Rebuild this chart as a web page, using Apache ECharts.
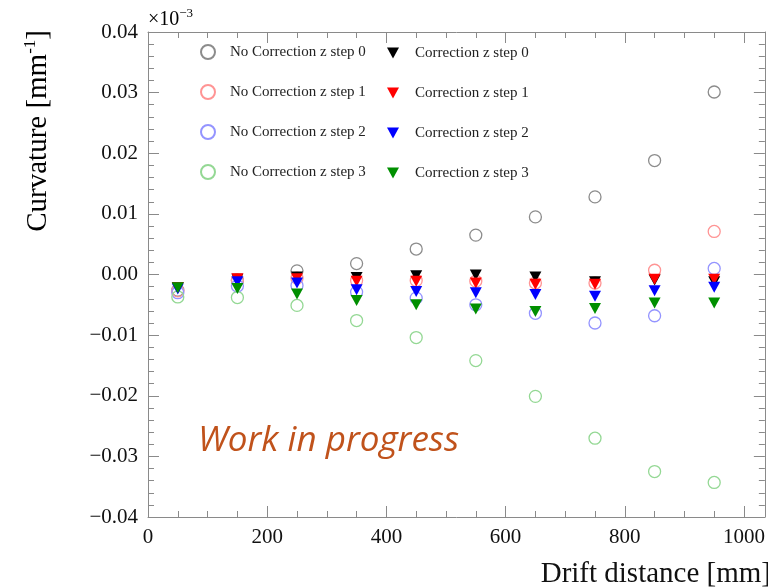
<!DOCTYPE html>
<html>
<head>
<meta charset="utf-8">
<script src="https://cdn.jsdelivr.net/npm/echarts@6/dist/echarts.min.js"></script>
<style>html,body{margin:0;padding:0;background:#fff}#c{width:768px;height:587px}</style>
</head>
<body>
<div id="c"></div>
<script>
const xVals = [50,150,250,350,450,550,650,750,850,950];
const noCorr0 = [-0.0026,-0.0010,0.0006,0.0018,0.0042,0.0065,0.0095,0.0128,0.0188,0.0301];
const noCorr1 = [-0.0027,-0.0009,-0.0006,-0.0010,-0.0010,-0.0011,-0.0014,-0.0014,0.0007,0.0071];
const noCorr2 = [-0.0030,-0.0019,-0.0018,-0.0029,-0.0039,-0.0050,-0.0064,-0.0080,-0.0068,0.0010];
const noCorr3 = [-0.0037,-0.0038,-0.0051,-0.0076,-0.0104,-0.0142,-0.0201,-0.0270,-0.0325,-0.0343];
const corr0 = [-0.0022,-0.0008,-0.0004,-0.0005,-0.0002,-0.0001,-0.0004,-0.0012,-0.0009,-0.0012];
const corr1 = [-0.0022,-0.0007,-0.0007,-0.0011,-0.0011,-0.0014,-0.0016,-0.0016,-0.0008,-0.0008];
const corr2 = [-0.0024,-0.0012,-0.0014,-0.0025,-0.0028,-0.0030,-0.0033,-0.0036,-0.0027,-0.0021];
const corr3 = [-0.0022,-0.0023,-0.0032,-0.0043,-0.0050,-0.0057,-0.0061,-0.0056,-0.0047,-0.0047];
const noCorrNames = ['No Correction z step 0','No Correction z step 1','No Correction z step 2','No Correction z step 3'];
const corrNames = ['Correction z step 0','Correction z step 1','Correction z step 2','Correction z step 3'];

const serif = 'Liberation Serif, Times New Roman, serif';
const frame = '#8a8a8a';
const circleColors = ['#8c8c8c','#ff9494','#9494ff','#94d894'];
const triColors = ['#000000','#ff0000','#0000ff','#008f00'];
const noCorrSets = [noCorr0,noCorr1,noCorr2,noCorr3];
const corrSets = [corr0,corr1,corr2,corr3];
const downTri = 'path://M0,0 L12,0 L6,11 Z';

function pairs(ys){ return xVals.map((x,i)=>[x, ys[i]]); }

const series = [];
noCorrSets.forEach((ys,i)=>{
  series.push({
    name: noCorrNames[i], type:'scatter', data: pairs(ys),
    symbol:'circle', symbolSize:12,
    itemStyle:{color:'rgba(0,0,0,0)', borderColor:circleColors[i], borderWidth:1.3, opacity:1},
    emphasis:{disabled:true}, z:2
  });
});
corrSets.forEach((ys,i)=>{
  series.push({
    name: corrNames[i], type:'scatter', data: pairs(ys),
    symbol:'triangle', symbolRotate:180, symbolSize:[12,11],
    itemStyle:{color:triColors[i], opacity:1},
    emphasis:{disabled:true}, z:3
  });
});

const fmtY = v => (v < 0 ? '\u2212' : '') + Math.abs(v).toFixed(2);

const tickCommon = {show:true, inside:true, length:11, lineStyle:{color:frame}};
const minorCommon = {show:true, length:6, lineStyle:{color:frame}};

const option = {
  animation:false,
  backgroundColor:'#fff',
  grid:{left:148, top:32, width:621, height:485, containLabel:false},
  xAxis:[
    {type:'value', position:'bottom', min:0, max:1035, interval:200,
     axisLine:{show:true, onZero:false, lineStyle:{color:frame}},
     axisTick:tickCommon, minorTick:Object.assign({splitNumber:4}, minorCommon),
     splitLine:{show:false},
     axisLabel:{show:true, showMaxLabel:false, margin:10, fontFamily:serif, fontSize:21, color:'#111',
       formatter: v => (v % 200 === 0 ? String(v) : '')}},
    {type:'value', position:'top', min:0, max:1035, interval:200,
     axisLine:{show:true, onZero:false, lineStyle:{color:frame}},
     axisTick:tickCommon, minorTick:Object.assign({splitNumber:4}, minorCommon),
     splitLine:{show:false}, axisLabel:{show:false}}
  ],
  yAxis:[
    {type:'value', position:'left', min:-0.04, max:0.04, interval:0.01,
     axisLine:{show:true, onZero:false, lineStyle:{color:frame}},
     axisTick:tickCommon, minorTick:Object.assign({splitNumber:5}, minorCommon),
     splitLine:{show:false},
     axisLabel:{margin:10, fontFamily:serif, fontSize:21, color:'#111', formatter:fmtY}},
    {type:'value', position:'right', min:-0.04, max:0.04, interval:0.01,
     axisLine:{show:true, onZero:false, lineStyle:{color:frame}},
     axisTick:tickCommon, minorTick:Object.assign({splitNumber:5}, minorCommon),
     splitLine:{show:false}, axisLabel:{show:false}}
  ],
  legend:[
    {data:noCorrNames, orient:'vertical', left:200, top:44, padding:0, itemWidth:14, itemHeight:14, itemGap:24,
     selectedMode:false, textStyle:{fontFamily:serif, fontSize:15, color:'#222', lineHeight:16, padding:[0,0,0,10]}},
    {data:corrNames.map(n => ({name:n, icon:downTri})), orient:'vertical', left:387, top:45, padding:0,
     itemWidth:12, itemHeight:11, itemGap:24,
     selectedMode:false, textStyle:{fontFamily:serif, fontSize:15, color:'#222', lineHeight:16, padding:[0,0,0,11]}}
  ],
  graphic:[
    {type:'text', x:38, y:30, rotation:Math.PI/2, z:10,
     style:{text:'{a|Curvature [mm}{s|-1}{a|]}', align:'right', verticalAlign:'middle',
       rich:{a:{fontFamily:serif, fontSize:29, color:'#111', lineHeight:32},
             s:{fontFamily:serif, fontSize:17, color:'#111', lineHeight:32, padding:[0,0,14,0]}}}},
    {type:'text', x:771, y:574, z:10,
     style:{text:'Drift distance [mm]', align:'right', verticalAlign:'middle', fontFamily:serif, fontSize:29, fill:'#111'}},
    {type:'text', x:148, y:20, z:10,
     style:{text:'{a|\u00d710}{s|\u22123}', align:'left', verticalAlign:'middle',
       rich:{a:{fontFamily:serif, fontSize:20, color:'#111', lineHeight:22},
             s:{fontFamily:serif, fontSize:13, color:'#111', lineHeight:22, padding:[0,0,12,0]}}}},
    {type:'text', x:198, y:441, z:10,
     style:{text:'Work in progress', align:'left', verticalAlign:'middle', fontFamily:'Open Sans, Lato, sans-serif',
       fontStyle:'italic', fontSize:35, fill:'#c0521b'}}
  ],
  series: series
};

const chart = echarts.init(document.getElementById('c'), null, {renderer:'canvas'});
chart.setOption(option);
</script>
</body>
</html>
